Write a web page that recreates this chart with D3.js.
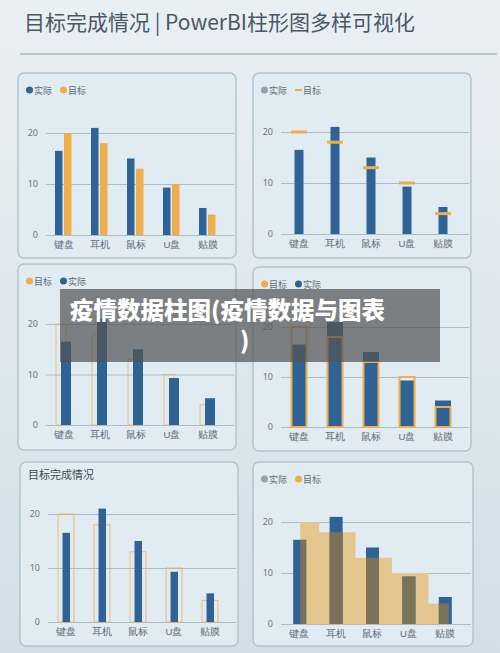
<!DOCTYPE html>
<html><head><meta charset="utf-8">
<script src="https://cdn.jsdelivr.net/npm/d3@7"></script>
<style>body{margin:0;background:#dbe6ec;font-family:"Noto Sans CJK SC","Noto Sans",sans-serif}</style>
</head><body><svg id="c" width="500" height="653"></svg>
<script>
const categories=["键盘","耳机","鼠标","U盘","贴膜"];
const actual=[16.5,21,15,9.3,5.3];
const target=[20,18,13,10,4];
const yTicks=[0,10,20];
const BLUE="#2f6395",ORANGE="#eeae4c",TAN="#e3c78f",OLIVE="#7b7359";
const svg=d3.select("#c");
const defs=svg.append("defs");
const g0=defs.append("linearGradient").attr("id","bg").attr("x1",0).attr("y1",0).attr("x2",0).attr("y2",1);
g0.append("stop").attr("offset",0).attr("stop-color","#e9f0f4");g0.append("stop").attr("offset",1).attr("stop-color","#d2dfe7");
svg.append("rect").attr("width",500).attr("height",653).attr("fill","url(#bg)");
svg.append("text").attr("x",24).attr("y",30).attr("font-size",21).attr("fill","#4a5866").text("目标完成情况 | PowerBI柱形图多样可视化");
svg.append("line").attr("x1",20).attr("x2",497).attr("y1",54).attr("y2",54).attr("stroke","#a9b7c2").attr("stroke-width",1.5);

function panel(p){
  const g=svg.append("g");
  g.append("rect").attr("x",p.x).attr("y",p.y).attr("width",p.w).attr("height",p.h).attr("rx",6)
   .attr("fill","#e1ecf2").attr("stroke","#b3c4d0").attr("stroke-width",1.5);
  const x=d3.scaleBand().domain(categories).range([p.x+28,p.x+p.w-10]).padding(0);
  const y=d3.scaleLinear().domain([0,20]).range([p.y0,p.y20]);
  const ax=g.append("g").attr("transform",`translate(${p.x+22},0)`).call(d3.axisLeft(y).tickValues(yTicks).tickSize(-(p.w-30)).tickPadding(6));
  ax.select(".domain").remove();
  ax.selectAll("line").attr("stroke","#aebcc6").attr("transform","translate(6,0)");
  ax.selectAll("text").attr("fill","#6a7580").attr("font-size",9).attr("x",-2).attr("text-anchor","end").attr("font-family","Noto Sans");
  const xa=g.append("g").attr("transform",`translate(0,${p.y0})`).call(d3.axisBottom(x).tickSize(0).tickPadding(6));
  xa.select(".domain").remove();
  xa.selectAll("text").attr("fill","#5f6b77").attr("font-size",9.5);
  p.draw(g,x,y);
  if(p.legend){
    let lx=p.x+8;
    p.legend.forEach(l=>{
      if(l.line) g.append("rect").attr("x",lx).attr("y",p.y+16).attr("width",7).attr("height",2).attr("fill",l.c);
      else g.append("circle").attr("cx",lx+3.5).attr("cy",p.y+17).attr("r",3.5).attr("fill",l.c);
      g.append("text").attr("x",lx+8).attr("y",p.y+20.5).attr("font-size",9).attr("fill","#5f6b77").text(l.t);
      lx+=34;
    });
  }
  if(p.title) g.append("text").attr("x",p.x+8).attr("y",p.y+17).attr("font-size",11).attr("fill","#3e4a56").text(p.title);
}
const bw=(x)=>x.bandwidth();
panel({x:18,y:73,w:218,h:185,y0:235,y20:133,legend:[{t:"实际",c:BLUE},{t:"目标",c:ORANGE}],
 draw(g,x,y){
  g.selectAll(".a").data(categories).enter().append("rect").attr("x",d=>x(d)+bw(x)/2-9).attr("width",7.5)
   .attr("y",(d,i)=>y(actual[i])).attr("height",(d,i)=>y(0)-y(actual[i])).attr("fill",BLUE);
  g.selectAll(".t").data(categories).enter().append("rect").attr("x",d=>x(d)+bw(x)/2).attr("width",7.5)
   .attr("y",(d,i)=>y(target[i])).attr("height",(d,i)=>y(0)-y(target[i])).attr("fill",ORANGE);
 }});
panel({x:253,y:73,w:218,h:185,y0:234,y20:132,legend:[{t:"实际",c:"#8fa3b4"},{t:"目标",c:ORANGE,line:true}],
 draw(g,x,y){
  g.selectAll(".a").data(categories).enter().append("rect").attr("x",d=>x(d)+bw(x)/2-4.5).attr("width",9)
   .attr("y",(d,i)=>y(actual[i])).attr("height",(d,i)=>y(0)-y(actual[i])).attr("fill",BLUE);
  g.selectAll(".t").data(categories).enter().append("rect").attr("x",d=>x(d)+bw(x)/2-8).attr("width",16)
   .attr("y",(d,i)=>y(target[i])-1.5).attr("height",3).attr("fill",ORANGE);
 }});
panel({x:18,y:264,w:218,h:186,y0:425,y20:324,legend:[{t:"目标",c:ORANGE},{t:"实际",c:BLUE}],
 draw(g,x,y){
  g.selectAll(".t").data(categories).enter().append("rect").attr("x",d=>x(d)+bw(x)/2-8).attr("width",10)
   .attr("y",(d,i)=>y(target[i])).attr("height",(d,i)=>y(0)-y(target[i])).attr("fill","none").attr("stroke",ORANGE).attr("stroke-width",1).attr("opacity",0.7);
  g.selectAll(".a").data(categories).enter().append("rect").attr("x",d=>x(d)+bw(x)/2-3).attr("width",10)
   .attr("y",(d,i)=>y(actual[i])).attr("height",(d,i)=>y(0)-y(actual[i])).attr("fill",BLUE);
 }});
panel({x:253,y:267,w:218,h:184,y0:427,y20:327,legend:[{t:"目标",c:ORANGE},{t:"实际",c:BLUE}],
 draw(g,x,y){
  g.selectAll(".a").data(categories).enter().append("rect").attr("x",d=>x(d)+bw(x)/2-8).attr("width",16)
   .attr("y",(d,i)=>y(actual[i])).attr("height",(d,i)=>y(0)-y(actual[i])).attr("fill",BLUE);
  g.selectAll(".t").data(categories).enter().append("rect").attr("x",d=>x(d)+bw(x)/2-7.5).attr("width",15)
   .attr("y",(d,i)=>y(target[i])).attr("height",(d,i)=>y(0)-y(target[i])).attr("fill","none").attr("stroke",ORANGE).attr("stroke-width",2);
 }});
panel({x:20,y:462,w:218,h:184,y0:622,y20:514,title:"目标完成情况",
 draw(g,x,y){
  g.selectAll(".t").data(categories).enter().append("rect").attr("x",d=>x(d)+bw(x)/2-8).attr("width",16)
   .attr("y",(d,i)=>y(target[i])).attr("height",(d,i)=>y(0)-y(target[i])).attr("fill","none").attr("stroke",ORANGE).attr("stroke-width",1).attr("opacity",0.75);
  g.selectAll(".a").data(categories).enter().append("rect").attr("x",d=>x(d)+bw(x)/2-3.5).attr("width",7.5)
   .attr("y",(d,i)=>y(actual[i])).attr("height",(d,i)=>y(0)-y(actual[i])).attr("fill",BLUE);
 }});
panel({x:253,y:462,w:220,h:184,y0:624,y20:522,legend:[{t:"实际",c:"#8fa3b4"},{t:"目标",c:ORANGE}],
 draw(g,x,y){
  const w=bw(x);
  const c=d=>x(d)+w/2;
  const x0=(d,i)=>i===0?c(d)+1:c(d)-17;
  const x1=(d,i)=>i===4?c(d)+4:c(d)+20;
  const cp=defs.append("clipPath").attr("id","tclip");
  const tr=(sel)=>sel.data(categories).enter().append("rect").attr("x",x0).attr("width",(d,i)=>x1(d,i)-x0(d,i))
   .attr("y",(d,i)=>y(target[i])).attr("height",(d,i)=>y(0)-y(target[i]));
  tr(g.selectAll(".t")).attr("fill",TAN);
  tr(cp.selectAll("rect"));
  g.selectAll(".a").data(categories).enter().append("rect").attr("x",d=>c(d)-6).attr("width",13)
   .attr("y",(d,i)=>y(actual[i])).attr("height",(d,i)=>y(0)-y(actual[i])).attr("fill",BLUE);
  g.append("g").attr("clip-path","url(#tclip)").selectAll("rect").data(categories).enter().append("rect").attr("x",d=>c(d)-6).attr("width",13)
   .attr("y",(d,i)=>y(actual[i])).attr("height",(d,i)=>y(0)-y(actual[i])).attr("fill",OLIVE);
 }});
// banner
svg.append("rect").attr("x",60).attr("y",289).attr("width",380).attr("height",73).attr("fill","rgba(85,85,85,0.72)");
svg.append("text").attr("x",70).attr("y",319).attr("font-size",23.5).attr("font-weight","900").attr("fill","#fff").text("疫情数据柱图(疫情数据与图表");
svg.append("text").attr("x",240).attr("y",349).attr("font-size",23.5).attr("font-weight","900").attr("fill","#fff").text(")");
</script></body></html>
